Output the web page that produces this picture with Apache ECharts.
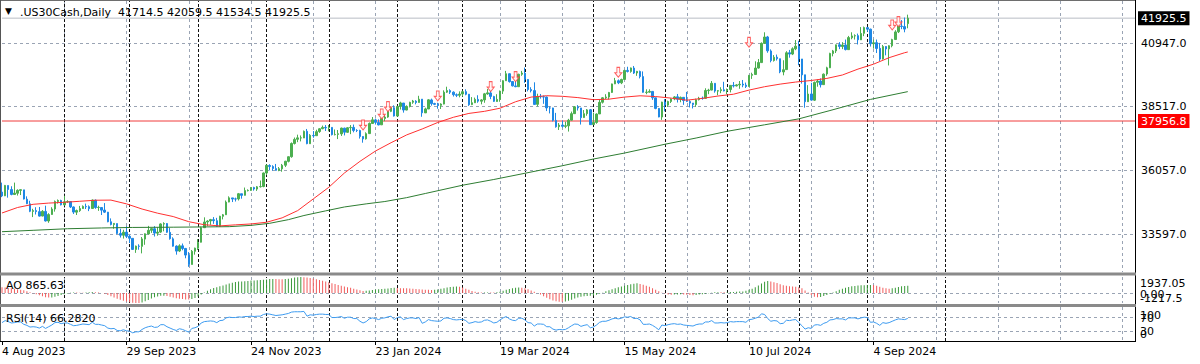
<!DOCTYPE html>
<html>
<head>
<meta charset="utf-8">
<script src="https://cdn.jsdelivr.net/npm/echarts@6/dist/echarts.min.js"></script>
<style>html,body{margin:0;padding:0;background:#fff}#c{width:1200px;height:364px}</style>
</head>
<body>
<div id="c"></div>
<script>
// ---------------- DATA ----------------
const tickLabels = ['4 Aug 2023','29 Sep 2023','24 Nov 2023','23 Jan 2024','19 Mar 2024','15 May 2024','10 Jul 2024','4 Sep 2024'];
const labelStep = 40;      // bars between date labels
const gridStep = 20;       // bars between vertical grid lines
const slotCount = 365;     // bars shown on the time axis (incl. empty future space)
const priceTicks = [40947.0, 38517.0, 36057.0, 33597.0];
const bidPrice = 41925.5;
const hLinePrice = 37956.8;
const monthStarts = [20,41,63,85,105,127,148,168,190,213,233,256,278,303];
const aoScale = [-1217.5, 1937.05];
const rsiLevels = [70, 30];

// [open, close, low, high]
const candles = [
[35215,35066,35020,35580],[35070,35473,35060,35490],[35470,35314,35000,35470],[35310,35123,35090,35440],[35120,35176,35110,35580],[35170,35281,35080,35320],[35280,35308,35100,35320],[35300,34946,34930,35300],[34940,34766,34750,35050],[34760,34474,34440,34880],
[34470,34500,34250,34570],[34500,34463,34350,34630],[34460,34288,34270,34640],[34290,34472,34280,34520],[34470,34099,34080,34690],[34100,34346,34030,34400],[34350,34559,34340,34630],[34560,34852,34460,34890],[34850,34890,34770,34930],[34890,34722,34700,34920],
[34720,34838,34700,35070],[34840,34850,34800,34900],[34850,34641,34600,34860],[34640,34443,34370,34660],[34440,34501,34330,34540],[34500,34577,34450,34680],[34580,34663,34570,34700],[34660,34646,34560,34770],[34650,34576,34480,34700],[34580,34907,34570,34930],
[34900,34618,34570,34930],[34620,34624,34490,34690],[34620,34518,34330,34630],[34520,34441,34410,34790],[34440,34070,34050,34450],[34070,33964,33930,34200],[33960,34007,33800,34020],[34000,33619,33590,34000],[33620,33551,33460,33800],[33550,33667,33420,33760],
[33670,33508,33440,33900],[33510,33433,33250,33560],[33430,33002,32990,33430],[33000,33130,32870,33150],[33130,33120,32990,33200],[33120,33408,32850,33480],[33400,33605,33180,33620],[33600,33740,33580,33910],[33740,33805,33640,33830],[33800,33631,33500,33900],
[33630,33670,33530,33860],[33670,33985,33640,34010],[33980,33998,33700,34050],[34000,33665,33640,34020],[33660,33415,33380,33830],[33410,33127,33110,33470],[33130,32937,32800,33160],[32940,33141,32900,33200],[33140,33036,32970,33230],[33040,32785,32660,33060],
[32780,32418,32330,32900],[32420,32929,32420,32980],[32930,33053,32800,33070],[33050,33275,32980,33400],[33280,33839,33270,33880],[33840,34061,33840,34240],[34060,34096,33900,34130],[34100,34153,33950,34180],[34150,34112,33990,34250],[34110,33892,33870,34220],
[33890,34283,33880,34300],[34280,34338,34160,34370],[34340,34828,34330,34890],[34830,34992,34820,35050],[34990,34946,34830,34990],[34950,34947,34850,35000],[34950,35151,34890,35180],[35150,35088,34960,35150],[35090,35273,35080,35390],[35270,35280,35240,35320],
[35280,35390,35260,35410],[35390,35333,35270,35420],[35330,35417,35260,35450],[35420,35430,35390,35660],[35430,35951,35400,35970],[35950,36246,35870,36280],[36240,36204,36050,36290],[36200,36125,36040,36250],[36120,36054,36040,36300],[36050,36117,36020,36180],
[36110,36248,36000,36300],[36250,36405,36180,36420],[36400,36578,36360,36590],[36580,37090,36540,37130],[37090,37248,37050,37320],[37250,37306,37140,37430],[37300,37307,37170,37400],[37300,37558,37300,37590],[37560,37083,37060,37650],[37080,37405,37080,37450],
[37400,37386,37310,37570],[37390,37545,37390,37620],[37550,37657,37500,37680],[37660,37710,37640,37780],[37710,37690,37570,37800],[37690,37715,37560,37800],[37710,37431,37400,37720],[37430,37440,37400,37630],[37440,37466,37260,37610],[37460,37683,37380,37700],
[37680,37525,37400,37700],[37520,37696,37500,37720],[37700,37711,37450,37800],[37710,37593,37520,37820],[37590,37590,37530,37640],[37590,37361,37280,37620],[37360,37267,37120,37370],[37270,37469,37240,37520],[37470,37864,37460,37900],[37860,38001,37860,38110],
[38000,37905,37820,38050],[37900,37807,37790,38020],[37810,38050,37800,38100],[38050,38109,37950,38190],[38110,38333,38080,38350],[38330,38467,38300,38520],[38470,38150,38130,38560],[38150,38520,38130,38540],[38520,38654,38400,38700],[38650,38380,38280,38650],
[38380,38521,38370,38560],[38520,38677,38480,38700],[38680,38726,38620,38770],[38720,38671,38600,38760],[38670,38797,38670,38930],[38800,38273,38120,38800],[38270,38424,38270,38470],[38420,38773,38420,38800],[38770,38628,38550,38820],[38630,38600,38570,38660],
[38600,38564,38430,38660],[38560,38612,38420,38640],[38610,39069,38600,39140],[39070,39131,39040,39280],[39130,39069,39000,39180],[39070,38972,38900,39100],[38970,38949,38880,39020],[38950,38996,38870,39100],[39000,39087,38900,39130],[39090,38989,38950,39180],
[38990,38585,38540,39000],[38590,38661,38570,38880],[38660,38791,38650,38860],[38790,38723,38660,38950],[38720,38770,38600,38800],[38770,39005,38660,39040],[39000,39043,38970,39190],[39040,38906,38800,39130],[38900,38715,38690,38930],[38710,38790,38700,38990],
[38790,39111,38700,39130],[39110,39512,39000,39530],[39510,39781,39500,39890],[39780,39476,39440,39790],[39480,39313,39290,39500],[39310,39282,39260,39500],[39280,39760,39280,39780],[39760,39807,39700,39890],[39800,39567,39430,40020],[39560,39170,39100,39570],
[39170,39127,39060,39260],[39130,38597,38590,39450],[38600,38904,38520,39010],[38900,38892,38820,39000],[38890,38883,38620,38940],[38880,38462,38340,38900],[38460,38459,38250,38520],[38460,37983,37940,38470],[37980,37735,37700,38270],[37740,37799,37610,37880],
[37800,37753,37700,37980],[37750,37775,37680,37930],[37770,37986,37550,38040],[37990,38240,37970,38320],[38240,38504,38230,38530],[38500,38461,38360,38570],[38460,38086,37820,38460],[38090,38240,38080,38380],[38240,38386,38160,38420],[38390,37816,37810,38420],
[37820,37903,37810,38280],[37900,38226,37850,38250],[38230,38676,38230,38800],[38680,38852,38630,38880],[38850,38884,38800,38990],[38880,39056,38790,39080],[39060,39388,39040,39400],[39390,39513,39380,39620],[39510,39432,39380,39560],[39430,39558,39380,39590],
[39560,39908,39550,39930],[39910,39869,39830,40050],[39870,40004,39820,40020],[40000,39807,39770,40080],[39810,39873,39700,39890],[39870,39671,39600,39900],[39670,39065,39050,39870],[39060,39070,38990,39180],[39070,39100,39050,39180],[39100,38853,38770,39110],
[38850,38442,38410,38860],[38440,38112,38100,38460],[38110,38686,38000,38700],[38690,38571,38330,38800],[38570,38711,38500,38740],[38710,38807,38650,38830],[38810,38886,38760,38920],[38890,38799,38670,39000],[38800,38868,38680,38900],[38870,38747,38580,38880],
[38750,38712,38690,39080],[38710,38647,38480,38760],[38650,38589,38440,38650],[38590,38778,38500,38820],[38780,38834,38750,38890],[38830,38830,38780,38900],[38830,39134,38810,39220],[39130,39150,38990,39200],[39150,39411,39140,39500],[39410,39112,39050,39420],
[39110,39127,38950,39150],[39130,39164,39030,39260],[39160,39118,39100,39470],[39120,39170,38990,39210],[39170,39331,39060,39340],[39330,39308,39250,39460],[39310,39350,39290,39380],[39350,39375,39200,39500],[39380,39344,39260,39540],[39340,39291,39230,39440],
[39290,39721,39280,39730],[39720,39753,39580,39820],[39750,40001,39740,40260],[40000,40212,39980,40350],[40210,40954,40200,40990],[40950,41198,40940,41380],[41200,40665,40590,41240],[40660,40288,40220,40720],[40290,40415,40250,40500],[40420,40358,40290,40520],
[40360,39854,39800,40360],[39850,39935,39720,40300],[39940,40589,39930,40650],[40590,40540,40400,40700],[40540,40743,40500,40800],[40740,40843,40690,41080],[40840,40348,40110,41050],[40350,39737,39400,40350],[39740,38703,38470,39740],[38700,38997,38690,39340],
[39000,38763,38740,39430],[38760,39446,38730,39480],[39450,39498,39280,39560],[39500,39357,39250,39600],[39360,39765,39360,39790],[39770,40008,39700,40050],[40010,40563,40000,40590],[40560,40660,40450,40700],[40660,40897,40580,40900],[40900,40834,40730,41000],
[40830,40890,40730,41000],[40890,40713,40680,41100],[40710,41175,40700,41240],[41170,41240,41110,41380],[41240,41250,41100,41300],[41250,41091,40910,41330],[41090,41335,41080,41580],[41340,41563,41230,41600],[41560,41500,41400,41590],[41500,40937,40830,41520],
[40940,40975,40750,41100],[40980,40756,40580,41100],[40760,40345,40270,40970],[40350,40830,40330,40890],[40830,40737,40490,40850],[40740,40861,40100,40880],[40860,41097,40800,41130],[41100,41394,41090,41460],[41400,41622,41350,41670],[41620,41606,41500,41850],
[41600,41503,41380,41950],[41714.5,41925.5,41534.5,42059.5]
];

// moving averages: [barIndex, value]
const ma50 = [[0,34408],[5,34620],[10,34743],[15,34790],[20,34820],[25,34860],[30,34900],[35,34905],[40,34760],[45,34560],[50,34400],[55,34270],[60,34072],[65,33955],[70,33910],[75,33950],[80,33985],[85,34050],[90,34220],[95,34500],[100,34950],[105,35400],[110,35950],[115,36400],[120,36800],[125,37120],[130,37420],[135,37650],[140,37900],[145,38100],[150,38250],[155,38330],[160,38450],[165,38700],[170,38880],[175,38933],[180,38910],[185,38860],[190,38780],[195,38800],[200,38880],[205,38930],[210,38900],[215,38840],[220,38760],[225,38830],[230,38920],[235,38990],[240,39150],[245,39280],[250,39380],[255,39460],[260,39520],[265,39600],[270,39732],[275,39960],[280,40150],[285,40400],[290,40592],[291,40620]];
const ma200 = [[0,33686],[10,33740],[21,33800],[32,33830],[42,33850],[55,33860],[65,33870],[73,33880],[80,33930],[86,34010],[92,34150],[97,34310],[104,34490],[110,34640],[117,34760],[123,34850],[130,35000],[136,35160],[142,35320],[148,35480],[158,35700],[168,35940],[180,36230],[190,36490],[200,36720],[213,37060],[223,37300],[233,37560],[245,37810],[256,38040],[266,38360],[279,38790],[291,39090]];

// signal arrows [barIndex, price]
const arrows = [[116,37803],[122,38227],[124,38509],[140,38922],[157,39280],[165,39666],[198,39836],[240,40993],[286,41661],[288,41788]];

const aoValues = [
700,650,600,560,500,450,400,320,220,100,
-20,-150,-280,-400,-520,-560,-540,-470,-380,-250,
-150,-60,20,60,50,40,30,60,80,120,
100,60,0,-100,-250,-400,-540,-700,-830,-950,
-1050,-1120,-1180,-1210,-1217.5,-1150,-1000,-850,-680,-520,
-420,-350,-330,-380,-450,-540,-640,-700,-740,-780,
-800,-720,-600,-420,-180,60,280,450,600,700,
800,900,1020,1150,1250,1320,1380,1400,1420,1450,
1500,1520,1530,1560,1600,1640,1680,1700,1690,1670,
1660,1680,1720,1800,1870,1910,1937.05,1920,1880,1820,
1740,1650,1560,1470,1380,1290,1190,1080,970,870,
780,700,620,520,420,330,250,260,300,360,
420,460,470,500,540,600,620,600,580,560,
560,540,510,480,450,420,400,380,370,390,
420,500,580,660,720,760,780,740,650,520,
380,250,150,80,50,60,70,60,50,80,
150,260,380,480,560,620,660,640,560,440,
300,150,0,-180,-400,-580,-760,-900,-1000,-1060,
-1080,-1050,-950,-820,-680,-560,-460,-400,-380,-350,
-300,-220,-100,40,200,330,450,560,680,790,
880,960,1050,1130,1170,1100,1000,880,740,580,
400,200,40,-80,-180,-220,-200,-180,-160,-200,
-220,-250,-270,-240,-200,-150,-100,-40,40,90,
100,90,80,90,110,130,150,170,190,260,
380,520,700,900,1150,1350,1440,1400,1300,1200,
1050,950,880,820,790,760,700,560,300,50,
-250,-450,-520,-480,-380,-250,-100,60,220,380,
500,620,720,800,860,900,930,950,970,980,
960,880,760,640,560,520,560,640,720,800,
840,865.63
];

const rsiValues = [
54,60,57,53,54,56,56,49,46,41,
42,41,38,43,37,42,47,54,55,51,
53,53,49,45,46,48,50,49,48,55,
49,49,47,45,38,36,37,31,30,33,
30,29,24,27,27,34,39,42,44,40,
41,48,48,42,38,34,31,36,34,30,
26,37,39,43,53,57,58,59,58,54,
60,61,68,70,69,69,71,70,72,72,
73,72,73,73,78,80,79,77,75,76,
77,79,81,85,86,86,86,87,73,77,
76,78,79,79,78,78,69,69,70,72,
67,70,70,66,66,58,53,57,65,68,
66,63,67,68,71,73,63,69,71,63,
66,68,68,66,69,52,56,63,60,59,
58,59,67,68,66,63,62,63,64,60,
52,54,57,55,56,61,62,58,53,55,
62,68,72,65,61,60,67,67,62,54,
53,44,50,50,49,42,42,35,32,34,
33,34,39,45,50,49,43,46,48,39,
41,47,55,58,58,61,65,67,65,67,
71,70,72,66,67,62,49,49,50,46,
40,33,47,45,48,50,51,49,50,47,
46,45,44,48,50,50,56,56,60,53,
53,54,53,54,57,56,57,57,57,55,
63,64,67,70,80,78,66,58,60,59,
51,52,61,60,62,63,54,45,35,39,
37,47,48,46,52,55,62,63,66,65,
65,62,68,68,68,65,68,70,69,55,
56,52,46,54,52,54,58,62,65,64,
63,66.28
];

// ---------------- STYLE ----------------
const FONT = 'DejaVu Sans';
const GRID = '#9aa4b4';
const BULL = '#4caf50';
const BEAR = '#1e88e5';

const cats = [];
for (let i = 0; i < slotCount; i++) cats.push(String(i));

const labelInterval = (i) => i % labelStep === 0 && i / labelStep < tickLabels.length;
const gridInterval = (i) => i > 0 && i % gridStep === 0;

function makeX(gi, bottom) {
  return {
    type: 'category', gridIndex: gi, data: cats, boundaryGap: false,
    axisLine: { show: false },
    axisTick: bottom ? { show: true, interval: labelInterval, length: 4, lineStyle: { color: '#000', width: 1 } } : { show: false },
    axisLabel: bottom ? {
      show: true, interval: labelInterval, align: 'left', margin: 5,
      formatter: (v, i) => tickLabels[i / labelStep],
      color: '#000', fontFamily: FONT, fontSize: 11
    } : { show: false },
    splitLine: { show: true, interval: gridInterval, lineStyle: { color: GRID, type: [3, 3], width: 1 } }
  };
}

const sepLines = monthStarts.map(i => ({ xAxis: i, lineStyle: { color: '#111', type: [3, 2], width: 1 }, label: { show: false } }));

const gridPriceLines = priceTicks.map(v => ({
  yAxis: v,
  lineStyle: { color: GRID, type: [3, 3], width: 1 },
  label: { show: true, position: 'end', formatter: v.toFixed(1), color: '#000', fontFamily: FONT, fontSize: 11, distance: 6 }
}));

// horizontal level lines drawn as two-point series across the whole time axis
function levelSeries(value, lineColor, boxColor) {
  return {
    type: 'line', xAxisIndex: 0, yAxisIndex: 0, z: 2, symbol: 'none', silent: true,
    data: [[0, value], [slotCount - 1, value]],
    lineStyle: { color: lineColor, width: 1, type: 'solid' },
    itemStyle: { color: lineColor },
    endLabel: {
      show: true, formatter: value.toFixed(1), color: '#fff', backgroundColor: boxColor,
      padding: [2, 3, 1, 3], fontFamily: FONT, fontSize: 11, distance: 3
    }
  };
}

function txt(text, x, y, extra) {
  return Object.assign({
    type: 'text', x: x, y: y, silent: true, z: 50,
    style: { text: text, fill: '#000', font: '11px "' + FONT + '"', textVerticalAlign: 'middle', verticalAlign: 'middle', textAlign: 'left', align: 'left' }
  }, extra || {});
}
function hline(x1, x2, y, color) {
  return { type: 'line', silent: true, z: 40, shape: { x1: x1, y1: y, x2: x2, y2: y }, style: { stroke: color, lineWidth: 1 } };
}
function vline(x, y1, y2, color) {
  return { type: 'line', silent: true, z: 40, shape: { x1: x, y1: y1, x2: x, y2: y2 }, style: { stroke: color, lineWidth: 1 } };
}

const arrowPath = 'path://M3,0 L7,0 L7,6 L10,6 L5,11 L0,6 L3,6 Z';

const option = {
  animation: false,
  backgroundColor: '#ffffff',
  textStyle: { fontFamily: FONT },
  grid: [
    { left: 2, top: 1, width: 1133, height: 271, containLabel: false, outerBoundsMode: 'none' },
    { left: 2, top: 277, width: 1133, height: 26, containLabel: false, outerBoundsMode: 'none' },
    { left: 2, top: 307, width: 1133, height: 34, containLabel: false, outerBoundsMode: 'none' }
  ],
  xAxis: [makeX(0, false), makeX(1, false), makeX(2, true)],
  yAxis: [
    { type: 'value', gridIndex: 0, min: 32131, max: 42587, show: false, splitLine: { show: false } },
    { type: 'value', gridIndex: 1, min: aoScale[0], max: aoScale[1], show: false, splitLine: { show: false } },
    { type: 'value', gridIndex: 2, min: 0, max: 100, show: false, splitLine: { show: false } }
  ],
  series: [
    {
      type: 'candlestick', xAxisIndex: 0, yAxisIndex: 0, data: candles, barWidth: 2, z: 3,
      itemStyle: { color: BULL, color0: BEAR, borderColor: BULL, borderColor0: BEAR, borderWidth: 1 },
      markLine: { silent: true, symbol: ['none', 'none'], z: 1, animation: false, label: { show: false }, data: sepLines.concat(gridPriceLines) }
    },
    levelSeries(bidPrice, '#b8bcc4', '#000000'),
    levelSeries(hLinePrice, '#f03c3c', '#ff0000'),
    { type: 'line', xAxisIndex: 0, yAxisIndex: 0, data: ma200, symbol: 'none', z: 4, lineStyle: { color: '#2e7d32', width: 1 } },
    { type: 'line', xAxisIndex: 0, yAxisIndex: 0, data: ma50, symbol: 'none', z: 4, lineStyle: { color: '#ff3030', width: 1 } },
    {
      type: 'scatter', xAxisIndex: 0, yAxisIndex: 0, data: arrows, symbol: arrowPath, symbolSize: [7, 10], z: 5,
      itemStyle: { color: '#fff4f4', borderColor: '#ff3a3a', borderWidth: 1 }
    },
    {
      type: 'bar', xAxisIndex: 1, yAxisIndex: 1, data: aoValues, barWidth: 1, z: 3,
      itemStyle: { color: (p) => (p.dataIndex > 0 && aoValues[p.dataIndex] > aoValues[p.dataIndex - 1]) ? '#3a9a3a' : '#f25c5c' },
      markLine: {
        silent: true, symbol: ['none', 'none'], z: 1, animation: false, label: { show: false },
        data: sepLines.concat([{ yAxis: 0, lineStyle: { color: GRID, type: [3, 3], width: 1 } }])
      }
    },
    {
      type: 'line', xAxisIndex: 2, yAxisIndex: 2, data: rsiValues, symbol: 'none', z: 3,
      lineStyle: { color: '#3d9bf0', width: 1 },
      markLine: {
        silent: true, symbol: ['none', 'none'], z: 1, animation: false, label: { show: false },
        data: sepLines.concat(rsiLevels.map(v => ({ yAxis: v, lineStyle: { color: GRID, type: [3, 3], width: 1 } })))
      }
    }
  ],
  graphic: [
    // frame and panel separators
    hline(0, 1136, 0.5, '#6e6e6e'),
    vline(0.5, 0, 341, '#555'),
    vline(1135.5, 0, 341, '#000'),
    hline(0, 1136, 341.5, '#000'),
    { type: 'rect', silent: true, z: 41, shape: { x: 0, y: 272.5, width: 1136, height: 3 }, style: { fill: '#8a8a8a' } },
    { type: 'rect', silent: true, z: 41, shape: { x: 0, y: 304, width: 1136, height: 3 }, style: { fill: '#8a8a8a' } },
    // headers
    txt('\u25BC', 5, 11, { style: { text: '\u25BC', fill: '#000', font: '9px "' + FONT + '"', textVerticalAlign: 'middle', verticalAlign: 'middle' } }),
    txt('.US30Cash,Daily', 20, 12),
    txt('41714.5 42059.5 41534.5 41925.5', 118, 12),
    txt('AO 865.63', 6, 285),
    txt('RSI(14) 66.2820', 6, 318),
    // sub-window scales (overlapping like the original terminal)
    txt('1937.05', 1140, 283.5),
    txt('-1217.5', 1140, 298),
    txt('0.00', 1140, 294),
    txt('100', 1140, 315),
    txt('70', 1140, 318),
    txt('30', 1140, 331),
    txt('0', 1140, 334)
  ]
};

const chart = echarts.init(document.getElementById('c'), null, { renderer: 'svg', width: 1200, height: 364 });
chart.setOption(option);
</script>
</body>
</html>
